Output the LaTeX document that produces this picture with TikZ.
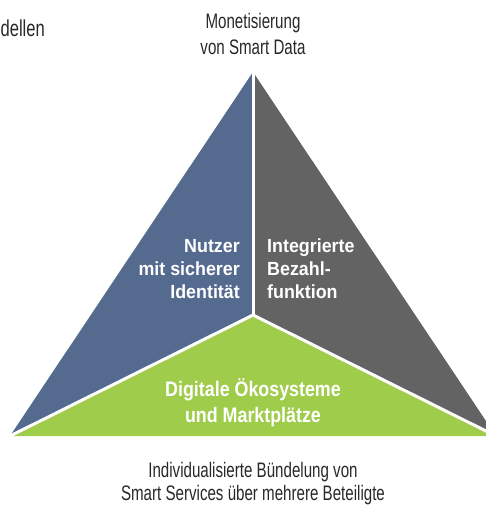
\documentclass[tikz,border=0pt]{standalone}
\usepackage{fontspec}
\newfontfamily\regf[FakeStretch=0.72]{Liberation Sans}
\newfontfamily\sidef[FakeStretch=0.94]{Liberation Sans Bold}
\newfontfamily\greenf[FakeStretch=0.85]{Liberation Sans Bold}
\definecolor{triblue}{RGB}{84,106,143}
\definecolor{trigray}{RGB}{99,99,99}
\definecolor{trigreen}{RGB}{160,204,76}
\definecolor{txtgray}{RGB}{40,40,40}
\begin{document}
\begin{tikzpicture}[x=1pt,y=-1pt,
  regtext/.style={inner sep=0pt,text=txtgray,font=\regf\fontsize{21}{26}\selectfont,align=center,anchor=base},
  sidetext/.style={inner sep=0pt,text=white,font=\sidef\fontsize{19}{23}\selectfont,anchor=base},
  greentext/.style={inner sep=0pt,text=white,font=\greenf\fontsize{21}{26}\selectfont,align=center,anchor=base},
  sep/.style={white,line width=3pt}]
\useasboundingbox (0,0) rectangle (485,506);
\coordinate (A) at (253,72);
\coordinate (L) at (10,436);
\coordinate (R) at (496,436);
\coordinate (C) at (253,315);
\fill[triblue] (A) -- (C) -- (L) -- cycle;
\fill[trigray] (A) -- (R) -- (C) -- cycle;
\fill[trigreen] (C) -- (R) -- (L) -- cycle;
\draw[sep] (A) -- (C);
\draw[sep] (C) -- (L);
\draw[sep] (C) -- (R);
\node[regtext,anchor=base east,font=\regf\fontsize{23}{26}\selectfont] (dl) at (45,36) {dellen};
\node[regtext] (top) at (253,54) {Monetisierung\\von Smart Data};
\node[regtext,font=\regf\fontsize{21}{23}\selectfont] (bot) at (253,500) {Individualisierte Bündelung von\\Smart Services über mehrere Beteiligte};
\node[sidetext,align=right,anchor=base east] (left) at (240,298) {Nutzer\\mit sicherer\\Identität};
\node[sidetext,align=left,anchor=base west] (right) at (267,298) {Integrierte\\Bezahl-\\funktion};
\node[greentext] (green) at (253,422) {Digitale Ökosysteme\\und Marktplätze};
\end{tikzpicture}
\end{document}
